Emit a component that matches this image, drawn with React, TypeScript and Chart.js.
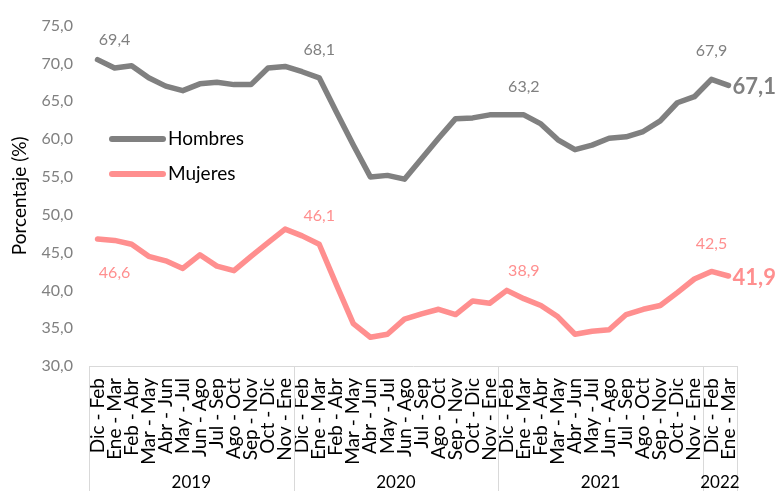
import React, { useEffect, useRef } from "react";
import { Chart, registerables } from "chart.js";
Chart.register(...registerables);

const FONT = "Lato, 'Open Sans', sans-serif";

const periodLabels = [
  "Dic - Feb", "Ene - Mar", "Feb - Abr", "Mar - May", "Abr - Jun", "May - Jul", "Jun - Ago", "Jul - Sep", "Ago - Oct", "Sep - Nov", "Oct - Dic", "Nov - Ene",
  "Dic - Feb", "Ene - Mar", "Feb - Abr", "Mar - May", "Abr - Jun", "May - Jul", "Jun - Ago", "Jul - Sep", "Ago - Oct", "Sep - Nov", "Oct - Dic", "Nov - Ene",
  "Dic - Feb", "Ene - Mar", "Feb - Abr", "Mar - May", "Abr - Jun", "May - Jul", "Jun - Ago", "Jul - Sep", "Ago - Oct", "Sep - Nov", "Oct - Dic", "Nov - Ene",
  "Dic - Feb", "Ene - Mar",
];

const years = ["2019", "2020", "2021", "2022"];
const yearCounts = [12, 12, 12, 2];

const hombres = [
  70.5, 69.4, 69.7, 68.1, 67.0, 66.4, 67.3, 67.5, 67.2, 67.2, 69.4, 69.6,
  68.9, 68.1, 63.6, 59.2, 55.0, 55.2, 54.7, 57.4, 60.1, 62.7, 62.8, 63.2,
  63.2, 63.2, 62.0, 59.9, 58.6, 59.2, 60.1, 60.3, 61.0, 62.4, 64.8, 65.6,
  67.9, 67.1,
];

const mujeres = [
  46.8, 46.6, 46.1, 44.5, 43.9, 42.9, 44.7, 43.2, 42.6, 44.5, 46.3, 48.1,
  47.2, 46.1, 40.8, 35.6, 33.8, 34.2, 36.2, 36.9, 37.5, 36.8, 38.6, 38.3,
  40.0, 38.9, 38.0, 36.5, 34.2, 34.6, 34.8, 36.8, 37.5, 38.0, 39.7, 41.5,
  42.5, 41.9,
];

const hombresLabelIdx = [1, 13, 25, 36];
const mujeresLabelIdx = [1, 13, 25, 36];

const GRAY = "#808080";
const PINK = "#FF8F8F";

const fmt = (v: number) => v.toFixed(1).replace(".", ",");

export default function App() {
  const ref = useRef<HTMLCanvasElement>(null);
  useEffect(() => {
    document.body.style.margin = "0";
    const canvas = ref.current!;
    const overlay = {
      id: "overlay",
      afterDraw(chart: any) {
        const ctx = chart.ctx;
        const area = chart.chartArea;
        const n = periodLabels.length;
        const step = (area.right - area.left) / n;
        ctx.save();
        // year separators
        ctx.strokeStyle = "#d9d9d9";
        ctx.lineWidth = 1;
        let cum = 0;
        const bounds = [0];
        yearCounts.forEach((c) => { cum += c; bounds.push(cum); });
        bounds.forEach((b) => {
          const x = Math.round(area.left + b * step) + 0.5;
          ctx.beginPath();
          ctx.moveTo(x, area.bottom);
          ctx.lineTo(x, 491);
          ctx.stroke();
        });
        // year labels
        ctx.fillStyle = "#000";
        ctx.font = `17px ${FONT}`;
        ctx.textAlign = "center";
        ctx.textBaseline = "middle";
        years.forEach((y, i) => {
          const x0 = area.left + bounds[i] * step;
          const x1 = area.left + bounds[i + 1] * step;
          ctx.fillText(y, (x0 + x1) / 2, 483);
        });
        // y title
        ctx.save();
        ctx.translate(20, (area.top + area.bottom) / 2);
        ctx.rotate(-Math.PI / 2);
        ctx.font = `19px ${FONT}`;
        ctx.fillStyle = "#000";
        ctx.textAlign = "center";
        ctx.textBaseline = "middle";
        ctx.fillText("Porcentaje (%)", 0, 0);
        ctx.restore();
        // legend
        const legend = [
          { t: "Hombres", c: GRAY, y: 139 },
          { t: "Mujeres", c: PINK, y: 174 },
        ];
        legend.forEach((l) => {
          ctx.strokeStyle = l.c;
          ctx.lineWidth = 6;
          ctx.lineCap = "round";
          ctx.beginPath();
          ctx.moveTo(112, l.y);
          ctx.lineTo(163, l.y);
          ctx.stroke();
          ctx.fillStyle = "#000";
          ctx.font = `19px ${FONT}`;
          ctx.textAlign = "left";
          ctx.textBaseline = "middle";
          ctx.fillText(l.t, 168, l.y);
        });
        // data labels
        const xs = chart.scales.x;
        const ys = chart.scales.y;
        const drawLabels = (data: number[], idxs: number[], color: string, belowFirst: boolean) => {
          ctx.fillStyle = color;
          ctx.font = `16px ${FONT}`;
          ctx.textAlign = "center";
          ctx.textBaseline = "middle";
          idxs.forEach((i, k) => {
            const px = xs.getPixelForValue(i);
            const py = ys.getPixelForValue(data[i]);
            const dy = belowFirst && k === 0 ? 32 : -28;
            ctx.fillText(fmt(data[i]), px, py + dy);
          });
          const last = data.length - 1;
          ctx.font = `bold 22px ${FONT}`;
          ctx.textAlign = "left";
          ctx.fillText(fmt(data[last]), xs.getPixelForValue(last) + 4, ys.getPixelForValue(data[last]) + 2);
        };
        drawLabels(hombres, hombresLabelIdx, GRAY, false);
        drawLabels(mujeres, mujeresLabelIdx, PINK, true);
        ctx.restore();
      },
    };
    const chart = new Chart(canvas, {
      type: "line",
      data: {
        labels: periodLabels,
        datasets: [
          {
            label: "Hombres",
            data: hombres,
            borderColor: GRAY,
            backgroundColor: GRAY,
            borderWidth: 5.5,
            pointRadius: 0,
            tension: 0,
            borderCapStyle: "round",
            borderJoinStyle: "round",
          },
          {
            label: "Mujeres",
            data: mujeres,
            borderColor: PINK,
            backgroundColor: PINK,
            borderWidth: 5.5,
            pointRadius: 0,
            tension: 0,
            borderCapStyle: "round",
            borderJoinStyle: "round",
          },
        ],
      },
      options: {
        animation: false,
        responsive: true,
        maintainAspectRatio: false,
        layout: { padding: { top: 22, right: 41, bottom: 0, left: 0 } },
        plugins: { legend: { display: false }, tooltip: { enabled: false } },
        scales: {
          x: {
            offset: true,
            grid: { display: false, drawTicks: false },
            border: { display: true, color: "#d9d9d9", width: 1 },
            ticks: {
              autoSkip: false,
              maxRotation: 90,
              minRotation: 90,
              padding: 12,
              color: "#000",
              font: { family: FONT, size: 19 },
            },
            afterFit: (s: any) => { s.height = 125; },
          },
          y: {
            min: 30,
            max: 75,
            grid: { display: false, drawTicks: false },
            border: { display: false },
            ticks: {
              stepSize: 5,
              padding: 16,
              color: GRAY,
              font: { family: FONT, size: 16 },
              callback: (v: any) => fmt(Number(v)),
            },
            afterFit: (s: any) => { s.width = 89; },
          },
        },
      },
      plugins: [overlay],
    });
    return () => chart.destroy();
  }, []);
  return (
    <div style={{ width: 778, height: 491, position: "relative" }}>
      <canvas ref={ref} />
    </div>
  );
}
